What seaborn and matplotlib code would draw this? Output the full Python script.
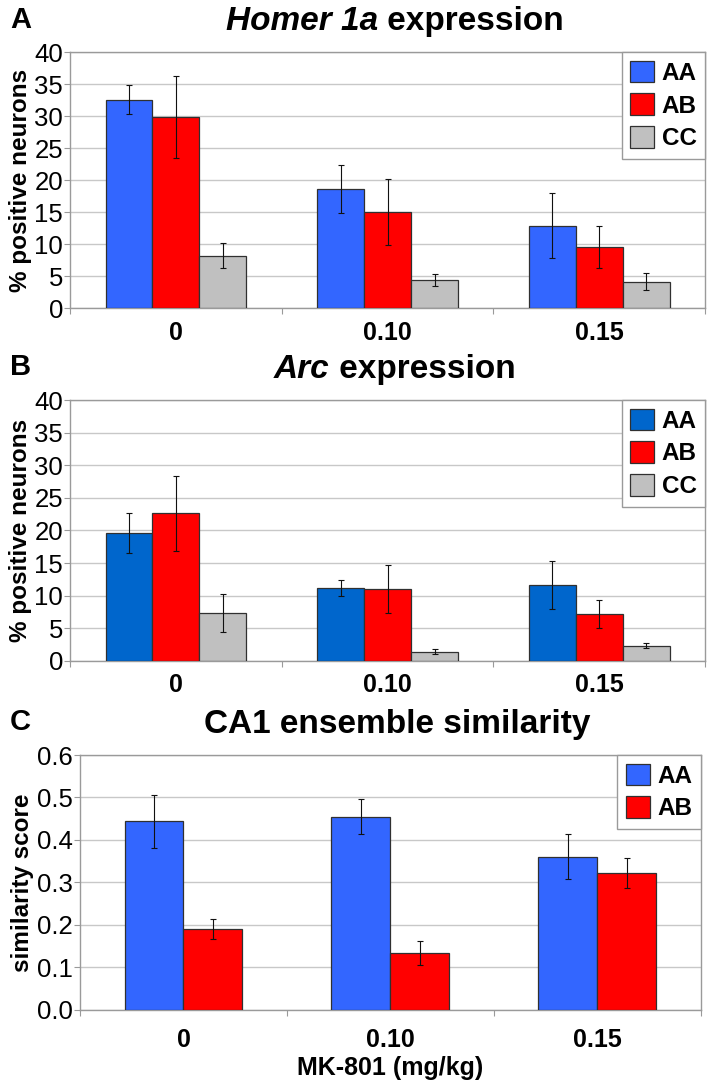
import numpy as np
import pandas as pd
import matplotlib
matplotlib.use("Agg")
import matplotlib.pyplot as plt
import seaborn as sns
from matplotlib.ticker import MultipleLocator, FixedLocator

# ---------------- data ----------------
doses = ["0", "0.10", "0.15"]

homer_groups = ["AA", "AB", "CC"]
homer_AA = [32.6, 18.6, 12.9]
homer_AA_err = [2.2, 3.7, 5.1]
homer_AB = [29.9, 15.0, 9.5]
homer_AB_err = [6.4, 5.2, 3.25]
homer_CC = [8.2, 4.4, 4.1]
homer_CC_err = [2.0, 0.9, 1.35]

arc_groups = ["AA", "AB", "CC"]
arc_AA = [19.6, 11.2, 11.6]
arc_AA_err = [3.0, 1.25, 3.7]
arc_AB = [22.6, 11.05, 7.2]
arc_AB_err = [5.7, 3.7, 2.2]
arc_CC = [7.35, 1.4, 2.35]
arc_CC_err = [2.85, 0.4, 0.38]

sim_groups = ["AA", "AB"]
sim_AA = [0.444, 0.455, 0.361]
sim_AA_err = [0.062, 0.041, 0.054]
sim_AB = [0.191, 0.134, 0.322]
sim_AB_err = [0.024, 0.028, 0.036]

# ---------------- style ----------------
sns.set_theme(style="white")
SANS = ["Liberation Sans", "DejaVu Sans"]
plt.rcParams["font.family"] = SANS
for k in ["text.color", "axes.labelcolor", "xtick.labelcolor", "ytick.labelcolor"]:
    plt.rcParams[k] = "black"

fig = plt.figure(figsize=(7.08, 10.87), dpi=100)

def make_df(groups, vals, errs):
    rows = []
    for g, v, e in zip(groups, vals, errs):
        for d, vv, ee in zip(doses, v, e):
            rows.append({"dose": d, "group": g, "value": vv, "err": ee})
    return pd.DataFrame(rows)

def panel(rect, df, groups, palette, width, ylim, ystep, yfmt, ylabel,
          title, title_italic, letter, xlabel=None, xpad=9):
    ax = fig.add_axes(rect)
    sns.barplot(data=df, x="dose", y="value", hue="group", order=doses,
                hue_order=groups, palette=palette, width=width, gap=0,
                edgecolor="#303030", linewidth=0.9, errorbar=None,
                saturation=1, ax=ax, zorder=3)
    # error bars
    for cont, g in zip(ax.containers, groups):
        sub = df[df.group == g].set_index("dose").loc[doses]
        xs = [p.get_x() + p.get_width() / 2 for p in cont.patches]
        hs = [p.get_height() for p in cont.patches]
        ax.errorbar(xs, hs, yerr=sub["err"].values, fmt="none",
                    ecolor="#111111", elinewidth=0.8, capsize=2.5,
                    capthick=0.8, zorder=4)
    ax.set_xlim(-0.5, 2.5)
    ax.set_ylim(*ylim)
    ax.yaxis.set_major_locator(MultipleLocator(ystep))
    ax.yaxis.set_major_formatter(plt.FuncFormatter(lambda v, p: yfmt.format(v)))
    ax.grid(axis="y", color="#c8c8c8", linewidth=1.0, zorder=0)
    ax.set_axisbelow(True)
    for s in ax.spines.values():
        s.set_color("#9a9a9a")
        s.set_linewidth(1.0)
    ax.tick_params(axis="y", which="major", left=True, length=4, width=0.8,
                   color="#9a9a9a", pad=1, labelsize=18.5, labelcolor="black")
    ax.xaxis.set_minor_locator(FixedLocator([-0.5, 0.5, 1.5, 2.5]))
    ax.tick_params(axis="x", which="minor", bottom=True, length=4, width=0.8,
                   color="#9a9a9a")
    ax.tick_params(axis="x", which="major", bottom=False, length=0, pad=xpad,
                   labelcolor="black")
    ax.set_xticks(range(3))
    ax.set_xticklabels(doses, fontsize=18, fontweight="bold")
    ax.set_xlabel(xlabel if xlabel else "", fontsize=18, fontweight="bold",
                  labelpad=3, color="black")
    ax.set_ylabel(ylabel, fontsize=17.5, fontweight="bold", labelpad=2,
                  color="black")
    # legend
    handles, labels = ax.get_legend_handles_labels()
    if ax.get_legend() is not None:
        ax.get_legend().remove()
    leg = ax.legend(handles, labels, loc="upper right", frameon=True,
                    fancybox=False, edgecolor="#9a9a9a", framealpha=1,
                    borderaxespad=0, handlelength=1.0, handleheight=1.0,
                    handletextpad=0.3, labelspacing=0.35, borderpad=0.35,
                    prop={"family": SANS, "weight": "bold", "size": 17.5})
    leg.get_frame().set_linewidth(1.0)
    for t in leg.get_texts():
        t.set_color("black")
    # title
    xc = rect[0] + rect[2] / 2 + 0.01
    ytitle = rect[1] + rect[3] + 0.028
    if title_italic:
        t1 = fig.text(0, ytitle, title_italic, fontsize=24, fontweight="bold",
                      style="italic", va="center", ha="left", color="black")
        t2 = fig.text(0, ytitle, " " + title, fontsize=24, fontweight="bold",
                      va="center", ha="left", color="black")
        fig.canvas.draw()
        r = fig.canvas.get_renderer()
        w1 = t1.get_window_extent(r).width / fig.bbox.width
        w2 = t2.get_window_extent(r).width / fig.bbox.width
        x0 = xc - (w1 + w2) / 2
        t1.set_x(x0)
        t2.set_x(x0 + w1)
    else:
        fig.text(xc, ytitle, title, fontsize=24, fontweight="bold",
                 va="center", ha="center", color="black")
    fig.text(0.014, ytitle + 0.002, letter, fontsize=21, fontweight="bold",
             va="center", ha="left", color="black")
    return ax

# Panel A
dfA = make_df(homer_groups, [homer_AA, homer_AB, homer_CC],
              [homer_AA_err, homer_AB_err, homer_CC_err])
panel([0.099, 0.7166, 0.897, 0.2354], dfA, homer_groups,
      ["#3366ff", "#ff0000", "#c0c0c0"], 0.665, (0, 40), 5, "{:.0f}",
      "% positive neurons", "expression", "Homer 1a", "A")

# Panel B
dfB = make_df(arc_groups, [arc_AA, arc_AB, arc_CC],
              [arc_AA_err, arc_AB_err, arc_CC_err])
panel([0.099, 0.392, 0.897, 0.240], dfB, arc_groups,
      ["#0066cc", "#ff0000", "#c0c0c0"], 0.665, (0, 40), 5, "{:.0f}",
      "% positive neurons", "expression", "Arc", "B")

# Panel C
dfC = make_df(sim_groups, [sim_AA, sim_AB], [sim_AA_err, sim_AB_err])
panel([0.113, 0.071, 0.877, 0.2344], dfC, sim_groups,
      ["#3366ff", "#ff0000"], 0.57, (0, 0.6), 0.1, "{:.1f}",
      "similarity score", "CA1 ensemble similarity", None, "C",
      xlabel="MK-801 (mg/kg)", xpad=13)

fig.savefig("out.png", dpi=100)
